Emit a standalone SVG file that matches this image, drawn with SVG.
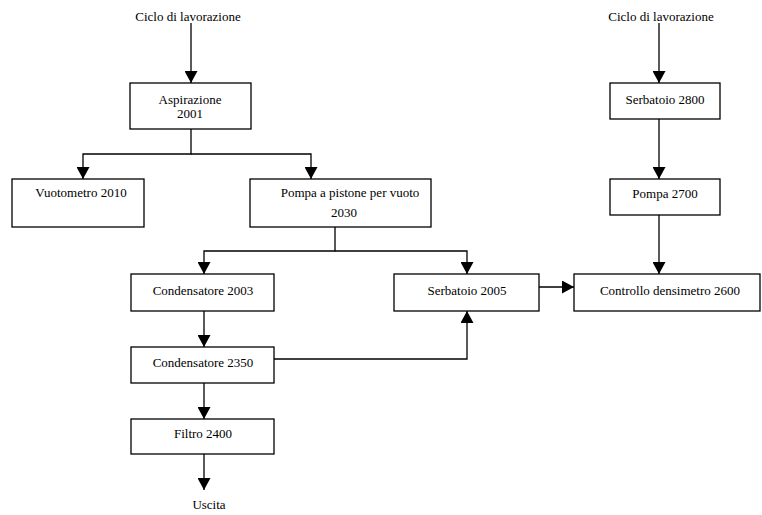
<svg xmlns="http://www.w3.org/2000/svg" width="762" height="515" viewBox="0 0 762 515">
  <defs>
    <marker id="arrow" markerWidth="12" markerHeight="13" refX="12" refY="6.5" orient="auto" markerUnits="userSpaceOnUse" viewBox="0 0 12 13">
      <path d="M0,0 L12,6.5 L0,13 Z" fill="#000"/>
    </marker>
  </defs>
  <style>
    .box { fill: #fff; stroke: #000; stroke-width: 1.3; }
    .lbl { font-family: "Liberation Serif", "Times New Roman", serif; font-size: 13px; fill: #000; text-anchor: middle; }
    .conn { fill: none; stroke: #000; stroke-width: 1.3; }
  </style>
  <rect width="762" height="515" fill="#fff"/>

  <!-- free labels -->
  <text class="lbl" x="188" y="21">Ciclo di lavorazione</text>
  <text class="lbl" x="661" y="21">Ciclo di lavorazione</text>
  <text class="lbl" x="209" y="509">Uscita</text>

  <g id="connectors">
    <path class="conn" d="M191,23 V83" marker-end="url(#arrow)"/>
    <path class="conn" d="M191,129 V154 H83 V179" marker-end="url(#arrow)"/>
    <path class="conn" d="M191,154 H311 V179" marker-end="url(#arrow)"/>
    <path class="conn" d="M335,227 V251 H204 V274" marker-end="url(#arrow)"/>
    <path class="conn" d="M335,251 H467 V274" marker-end="url(#arrow)"/>
    <path class="conn" d="M204,311 V347" marker-end="url(#arrow)"/>
    <path class="conn" d="M204,383 V419" marker-end="url(#arrow)"/>
    <path class="conn" d="M204,454 V490" marker-end="url(#arrow)"/>
    <path class="conn" d="M274,359 H467 V311" marker-end="url(#arrow)"/>
    <path class="conn" d="M539,287 H574" marker-end="url(#arrow)"/>
    <path class="conn" d="M659,23 V83" marker-end="url(#arrow)"/>
    <path class="conn" d="M659,119 V179" marker-end="url(#arrow)"/>
    <path class="conn" d="M659,215 V274" marker-end="url(#arrow)"/>
  </g>

  <g id="aspirazione">
    <rect class="box" x="130" y="83" width="121" height="46"/>
    <text class="lbl" x="190" y="104">Aspirazione</text>
    <text class="lbl" x="190" y="118">2001</text>
  </g>
  <g id="vuotometro">
    <rect class="box" x="12" y="179" width="132" height="48"/>
    <text class="lbl" x="81" y="197">Vuotometro 2010</text>
  </g>
  <g id="pompa-pistone">
    <rect class="box" x="250" y="179" width="181" height="48"/>
    <text class="lbl" x="350" y="197">Pompa a pistone per vuoto</text>
    <text class="lbl" x="344" y="217">2030</text>
  </g>
  <g id="condensatore-2003">
    <rect class="box" x="131" y="274" width="143" height="37"/>
    <text class="lbl" x="203" y="295">Condensatore 2003</text>
  </g>
  <g id="serbatoio-2005">
    <rect class="box" x="394" y="274" width="145" height="37"/>
    <text class="lbl" x="467" y="295">Serbatoio 2005</text>
  </g>
  <g id="condensatore-2350">
    <rect class="box" x="131" y="347" width="143" height="36"/>
    <text class="lbl" x="203" y="367">Condensatore 2350</text>
  </g>
  <g id="filtro">
    <rect class="box" x="131" y="419" width="143" height="35"/>
    <text class="lbl" x="203" y="438">Filtro 2400</text>
  </g>
  <g id="serbatoio-2800">
    <rect class="box" x="610" y="83" width="110" height="36"/>
    <text class="lbl" x="665" y="104">Serbatoio 2800</text>
  </g>
  <g id="pompa-2700">
    <rect class="box" x="610" y="179" width="110" height="36"/>
    <text class="lbl" x="665" y="198">Pompa 2700</text>
  </g>
  <g id="controllo">
    <rect class="box" x="574" y="274" width="186" height="37"/>
    <text class="lbl" x="670" y="295">Controllo densimetro 2600</text>
  </g>
</svg>
